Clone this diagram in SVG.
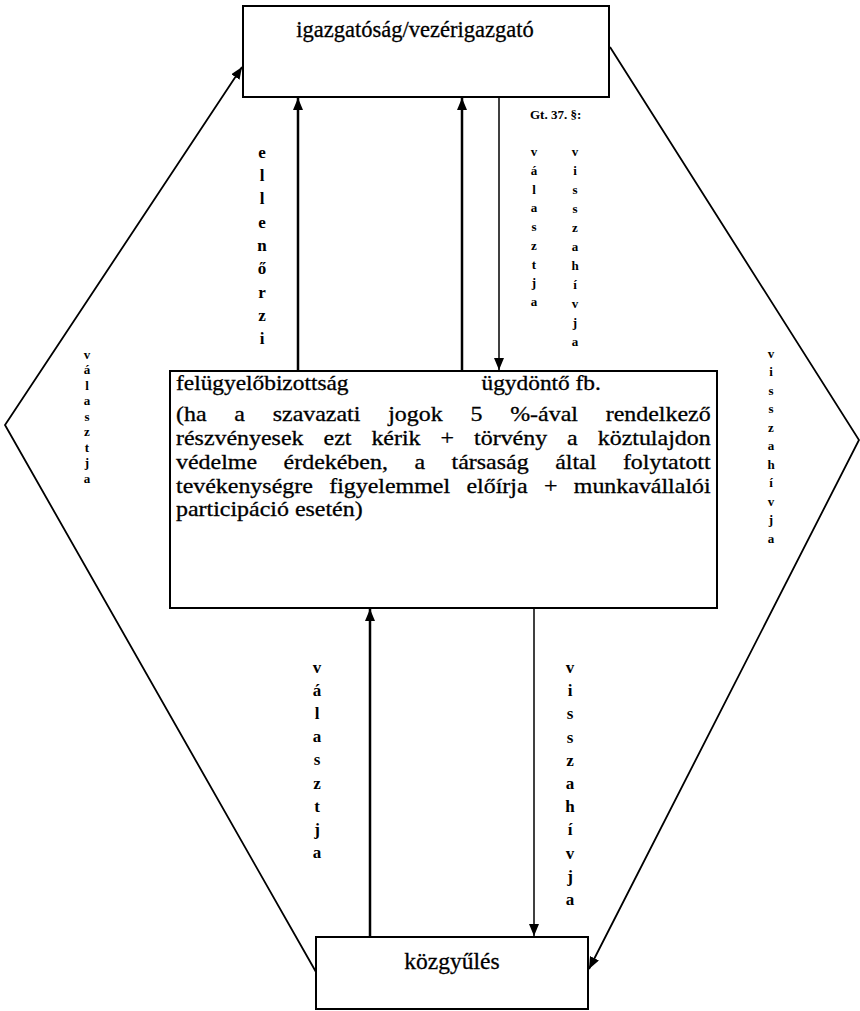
<svg xmlns="http://www.w3.org/2000/svg" width="860" height="1011" viewBox="0 0 860 1011">
<style>
.box{fill:#fff;stroke:#000;stroke-width:2}
.t{font-family:"Liberation Serif","Times New Roman",serif;fill:#000;stroke:#000;stroke-width:0.3}
.big{font-size:22.5px}
.head{font-size:20.5px}
.body{font-size:21px}
.vl{font-family:"Liberation Serif","Times New Roman",serif;font-weight:bold;font-size:17px;text-anchor:middle;fill:#000}
.vs{font-family:"Liberation Serif","Times New Roman",serif;font-weight:bold;font-size:13px;text-anchor:middle;fill:#000}
.thick{stroke:#000;stroke-width:2.5;fill:none}
.thin{stroke:#000;stroke-width:1.5;fill:none}
.diag{stroke:#000;stroke-width:1.8;fill:none;stroke-linejoin:miter}
</style>
<defs>
<marker id="ah" markerUnits="userSpaceOnUse" markerWidth="13" markerHeight="11" refX="12" refY="5" orient="auto">
<path d="M0,0 L12,5 L0,10 z" fill="#000"/>
</marker>
</defs>
<rect width="860" height="1011" fill="#fff"/>

<g id="connectors">
<line class="thick" x1="298" y1="371" x2="298" y2="98" marker-end="url(#ah)"/>
<line class="thick" x1="462" y1="371" x2="462" y2="98" marker-end="url(#ah)"/>
<line class="thin" x1="499" y1="97" x2="499" y2="370" marker-end="url(#ah)"/>
<line class="thick" x1="370" y1="937" x2="370" y2="609" marker-end="url(#ah)"/>
<line class="thin" x1="534" y1="608" x2="534" y2="936" marker-end="url(#ah)"/>
<polyline class="diag" points="316,972 5,425 242,67" marker-end="url(#ah)"/>
<polyline class="diag" points="610,47 859,440 589,969" marker-end="url(#ah)"/>

<text class="vl"><tspan x="262" y="158">e</tspan><tspan x="262" y="181">l</tspan><tspan x="262" y="204">l</tspan><tspan x="262" y="228">e</tspan><tspan x="262" y="251">n</tspan><tspan x="262" y="274">ő</tspan><tspan x="262" y="298">r</tspan><tspan x="262" y="321">z</tspan><tspan x="262" y="344">i</tspan></text>

<text x="530" y="119" font-family="Liberation Serif, Times New Roman, serif" font-size="13" font-weight="bold">Gt. 37. §:</text>

<text class="vs"><tspan x="534" y="156">v</tspan><tspan x="534" y="175">á</tspan><tspan x="534" y="194">l</tspan><tspan x="534" y="212">a</tspan><tspan x="534" y="231">s</tspan><tspan x="534" y="250">z</tspan><tspan x="534" y="269">t</tspan><tspan x="534" y="287">j</tspan><tspan x="534" y="306">a</tspan></text>

<text class="vs"><tspan x="575" y="156">v</tspan><tspan x="575" y="175">i</tspan><tspan x="575" y="194">s</tspan><tspan x="575" y="213">s</tspan><tspan x="575" y="232">z</tspan><tspan x="575" y="251">a</tspan><tspan x="575" y="270">h</tspan><tspan x="575" y="289">í</tspan><tspan x="575" y="308">v</tspan><tspan x="575" y="327">j</tspan><tspan x="575" y="346">a</tspan></text>

<text class="vs"><tspan x="87" y="359">v</tspan><tspan x="87" y="374">á</tspan><tspan x="87" y="390">l</tspan><tspan x="87" y="405">a</tspan><tspan x="87" y="421">s</tspan><tspan x="87" y="436">z</tspan><tspan x="87" y="452">t</tspan><tspan x="87" y="467">j</tspan><tspan x="87" y="483">a</tspan></text>

<text class="vs"><tspan x="771" y="358">v</tspan><tspan x="771" y="376">i</tspan><tspan x="771" y="395">s</tspan><tspan x="771" y="413">s</tspan><tspan x="771" y="432">z</tspan><tspan x="771" y="450">a</tspan><tspan x="771" y="469">h</tspan><tspan x="771" y="487">í</tspan><tspan x="771" y="506">v</tspan><tspan x="771" y="524">j</tspan><tspan x="771" y="543">a</tspan></text>

<text class="vl"><tspan x="317" y="673">v</tspan><tspan x="317" y="696">á</tspan><tspan x="317" y="719">l</tspan><tspan x="317" y="742">a</tspan><tspan x="317" y="765">s</tspan><tspan x="317" y="789">z</tspan><tspan x="317" y="812">t</tspan><tspan x="317" y="835">j</tspan><tspan x="317" y="858">a</tspan></text>

<text class="vl"><tspan x="570" y="673">v</tspan><tspan x="570" y="696">i</tspan><tspan x="570" y="719">s</tspan><tspan x="570" y="743">s</tspan><tspan x="570" y="766">z</tspan><tspan x="570" y="789">a</tspan><tspan x="570" y="812">h</tspan><tspan x="570" y="835">í</tspan><tspan x="570" y="859">v</tspan><tspan x="570" y="882">j</tspan><tspan x="570" y="905">a</tspan></text>
</g>

<g id="igazgatosag">
<rect class="box" x="243" y="6" width="366" height="91"/>
<text class="t big" x="415" y="37" text-anchor="middle">igazgatóság/vezérigazgató</text>
</g>

<g id="felugyelobizottsag">
<rect class="box" x="170" y="371" width="547" height="237"/>
<g transform="translate(176,0) scale(1.14,1)">
<text class="t head" x="0" y="390">felügyelőbizottság</text>
<text class="t head" x="268" y="390">ügydöntő fb.</text>
<text class="t body" x="0" y="421" style="word-spacing:19.1px" textLength="469" lengthAdjust="spacing">(ha a szavazati jogok 5 %-ával rendelkező</text>
<text class="t body" x="0" y="445" style="word-spacing:12.3px" textLength="469" lengthAdjust="spacing">részvényesek ezt kérik + törvény a köztulajdon</text>
<text class="t body" x="0" y="469" style="word-spacing:18px" textLength="469" lengthAdjust="spacing">védelme érdekében, a társaság által folytatott</text>
<text class="t body" x="0" y="493" style="word-spacing:9.1px" textLength="469" lengthAdjust="spacing">tevékenységre figyelemmel előírja + munkavállalói</text>
<text class="t body" x="0" y="516">participáció esetén)</text>
</g>
</g>

<g id="kozgyules">
<rect class="box" x="316" y="937" width="272" height="72"/>
<text class="t" x="452" y="969" text-anchor="middle" font-size="23.5">közgyűlés</text>
</g>
</svg>
